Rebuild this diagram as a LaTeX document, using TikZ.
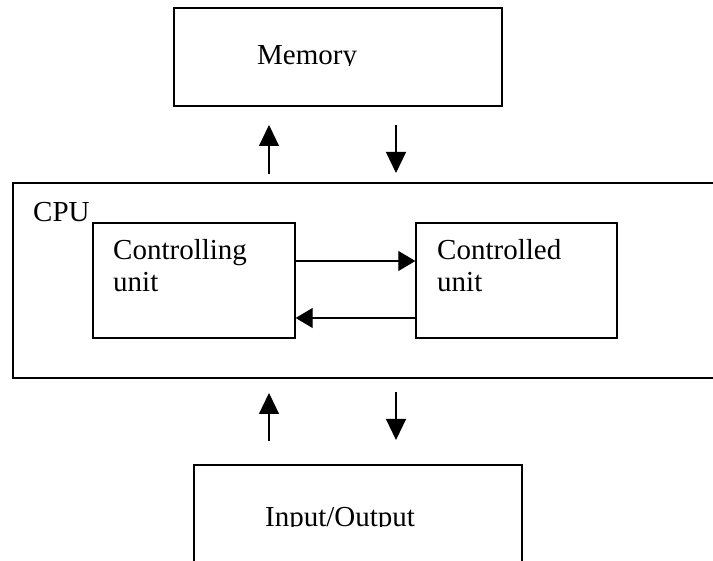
\documentclass[tikz,border=0pt]{standalone}
\usepackage{fontspec}
\setmainfont{Liberation Serif}
\usetikzlibrary{arrows.meta}
\begin{document}
\begin{tikzpicture}[x=1pt,y=-1pt,
  box/.style={draw=black, line width=1.4pt, inner sep=0pt},
  label/.style={anchor=base west, inner sep=0pt, align=left,
    font=\fontsize{29}{32}\selectfont},
  vflow/.style={line width=1.2pt, -{Triangle[length=21pt,width=20pt]}},
  hflow/.style={line width=1.2pt, -{Triangle[length=17pt,width=20pt]}}]
\clip (0,0) rectangle (713,561);
% boxes
\node[box, minimum width=328pt, minimum height=98pt] (mem) at (338,57) {};
\node[box, line width=2pt, minimum width=730pt, minimum height=195pt] (cpu) at (378,280.5) {};
\node[box, minimum width=202pt, minimum height=115pt] (ctl) at (194,280.5) {};
\node[box, minimum width=201pt, minimum height=115pt] (ctd) at (516.5,280.5) {};
\node[box, minimum width=328pt, minimum height=130pt] (io) at (358,530) {};
% labels
\begin{scope}
\clip (150,0) rectangle (510,66);
\node[label] (memt) at (257,65) {Memory};
\end{scope}
\node[label] (cput) at (33,222) {CPU};
\node[label] (ctlt) at (113,292) {Controlling\\unit};
\node[label] (ctdt) at (437,292) {Controlled\\unit};
\begin{scope}
\clip (190,460) rectangle (530,527);
\node[label] (iot) at (265,526) {Input/Output};
\end{scope}
% vertical arrows
\coordinate (a1s) at (269,174); \coordinate (a1e) at (269,125);
\coordinate (a2s) at (396,125); \coordinate (a2e) at (396,173);
\coordinate (a3s) at (269,441); \coordinate (a3e) at (269,393);
\coordinate (a4s) at (396,392); \coordinate (a4e) at (396,440);
\draw[vflow] (a1s) -- (a1e);
\draw[vflow] (a2s) -- (a2e);
\draw[vflow] (a3s) -- (a3e);
\draw[vflow] (a4s) -- (a4e);
% horizontal arrows
\draw[hflow] (ctl.east |- 0,261) -- (ctd.west |- 0,261);
\draw[hflow] (ctd.west |- 0,318) -- (ctl.east |- 0,318);
\end{tikzpicture}
\end{document}
